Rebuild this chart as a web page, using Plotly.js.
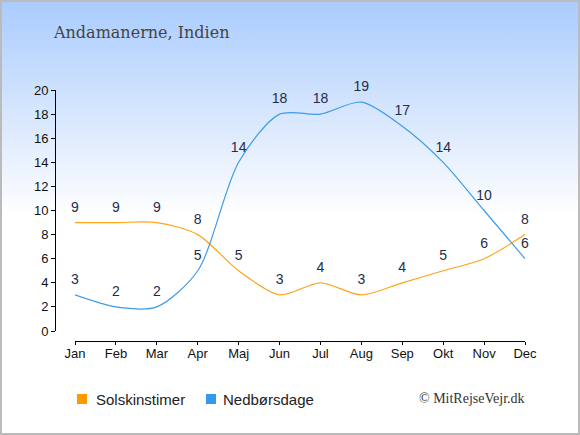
<!DOCTYPE html>
<html><head><meta charset="utf-8">
<script src="https://cdn.plot.ly/plotly-3.0.1.min.js"></script>
<style>
html,body{margin:0;padding:0;}
#wrap{width:580px;height:435px;box-sizing:border-box;border:2px solid #bbbbbb;
background:linear-gradient(to bottom,#aaccff 0px,#d6e6fd 110px,#ffffff 215px,#ffffff 435px);position:relative;overflow:hidden;}
#chart{position:absolute;left:-2px;top:-2px;width:580px;height:435px;}
</style></head>
<body><div id="wrap"><div id="chart"></div></div>
<script>
const months = ["Jan","Feb","Mar","Apr","Maj","Jun","Jul","Aug","Sep","Okt","Nov","Dec"];
const sunHours = [9,9,9,8,5,3,4,3,4,5,6,8];
const rainDays = [3,2,2,5,14,18,18,19,17,14,10,6];
const yTicks = [0,2,4,6,8,10,12,14,16,18,20];
const seriesNames = ["Solskinstimer","Nedbørsdage"];
const seriesColors = ["#ffa31a","#3d9be9"];

const W=580,H=435;
const px = x=>x/W, py = y=>(H-y)/H;

const mk = (vals,i)=>({
  type:'scatter', mode:'lines+markers+text', x:months, y:vals,
  line:{color:seriesColors[i],width:1.2,shape:'spline',smoothing:0.8},
  marker:{size:10,opacity:0,color:seriesColors[i]},
  text:vals.map(String), textposition:'top center',
  textfont:{family:'Liberation Sans, Arial, sans-serif',size:14,color:'#1e2d4a'},
  cliponaxis:false, showlegend:false, hoverinfo:'skip'
});

const layout = {
  width:W,height:H,margin:{l:0,r:0,t:0,b:0},
  paper_bgcolor:'rgba(0,0,0,0)',plot_bgcolor:'rgba(0,0,0,0)',
  showlegend:false,
  xaxis:{domain:[px(75),px(525)],range:[0,11],type:'category',anchor:'free',position:py(341),
    showline:true,linecolor:'#000',linewidth:1,ticks:'outside',ticklen:3,tickcolor:'#000',
    ticklabelstandoff:-3,
    showgrid:false,zeroline:false,fixedrange:true,
    tickfont:{family:'Liberation Sans, Arial, sans-serif',size:13,color:'#111'}},
  yaxis:{domain:[py(331),py(90)],range:[0,20],anchor:'free',position:px(55),
    tickvals:yTicks,ticktext:yTicks.map(String),
    showline:true,linecolor:'#000',linewidth:1,ticks:'outside',ticklen:4,tickcolor:'#000',
    showgrid:false,zeroline:false,fixedrange:true,
    tickfont:{family:'Liberation Sans, Arial, sans-serif',size:13,color:'#111'}},
  annotations:[
    {text:'Andamanerne, Indien',xref:'paper',yref:'paper',x:px(51),y:py(32),xanchor:'left',yanchor:'middle',showarrow:false,
     font:{family:'DejaVu Serif, serif',size:16,color:'#444'}},
    {text:seriesNames[0],xref:'paper',yref:'paper',x:px(94),y:py(399),xanchor:'left',yanchor:'middle',showarrow:false,
     font:{family:'Liberation Sans, Arial, sans-serif',size:15,color:'#222'}},
    {text:seriesNames[1],xref:'paper',yref:'paper',x:px(221),y:py(399),xanchor:'left',yanchor:'middle',showarrow:false,
     font:{family:'Liberation Sans, Arial, sans-serif',size:15,color:'#222'}},
    {text:'© MitRejseVejr.dk',xref:'paper',yref:'paper',x:px(527),y:py(398),xanchor:'right',yanchor:'middle',showarrow:false,
     font:{family:'Liberation Serif, serif',size:14,color:'#333'}}
  ],
  shapes:[
    {type:'rect',xref:'paper',yref:'paper',x0:px(77),x1:px(87),y0:py(394),y1:py(404),fillcolor:'#ff9900',line:{width:0}},
    {type:'rect',xref:'paper',yref:'paper',x0:px(206),x1:px(216),y0:py(394),y1:py(404),fillcolor:'#3399ee',line:{width:0}}
  ]
};
Plotly.newPlot('chart',[mk(sunHours,0),mk(rainDays,1)],layout,{displayModeBar:false,staticPlot:true});
</script></body></html>
